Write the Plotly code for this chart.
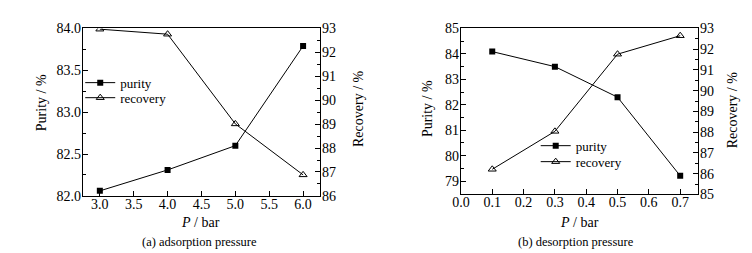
import plotly.graph_objects as go

# Data (a) adsorption pressure
p_ads = [3.0, 4.0, 5.0, 6.0]
purity_ads = [82.06, 82.31, 82.60, 83.79]
recovery_ads = [92.97, 92.76, 89.01, 86.88]

# Data (b) desorption pressure
p_des = [0.1, 0.3, 0.5, 0.7]
purity_des = [84.09, 83.50, 82.30, 79.21]
recovery_des = [86.21, 88.04, 91.76, 92.65]

W, H = 752, 253
FONT = "'Liberation Serif', 'Times New Roman', Times, 'DejaVu Serif', serif"

def px_x(v):
    return v / W

def px_y(v):
    return 1 - v / H

fig = go.Figure()

line = dict(color="black", width=1)
sq = dict(symbol="square", size=6, color="black")
tri = dict(symbol="triangle-up-open", size=7, color="black", line=dict(width=1))
fig.add_trace(go.Scatter(x=p_ads, y=purity_ads, name="purity", mode="lines+markers",
                         line=line, marker=sq, xaxis="x", yaxis="y", legend="legend"))
fig.add_trace(go.Scatter(x=p_ads, y=recovery_ads, name="recovery", mode="lines+markers",
                         line=line, marker=tri, xaxis="x", yaxis="y2", legend="legend2"))
fig.add_trace(go.Scatter(x=p_des, y=purity_des, name="purity", mode="lines+markers",
                         line=line, marker=sq, xaxis="x2", yaxis="y3", legend="legend3"))
fig.add_trace(go.Scatter(x=p_des, y=recovery_des, name="recovery", mode="lines+markers",
                         line=line, marker=tri, xaxis="x2", yaxis="y4", legend="legend4"))

tickfont = dict(family=FONT, size=14, color="black")
common = dict(showline=True, linecolor="black", linewidth=1.2, ticks="inside", ticklen=5,
              tickcolor="black", tickwidth=1, showgrid=False, zeroline=False, tickfont=tickfont)
xcommon = dict(common, ticklabelstandoff=-5)
ycommon = dict(common, ticklabelstandoff=-2)

dom1x = [px_x(66.7), px_x(306.7)]
dom1y = [px_y(192.3), px_y(14.3)]
dom2x = [px_x(449.3), px_x(689.3)]
dom2y = [px_y(190.7), px_y(14.3)]

def leg(x, y):
    return dict(x=px_x(x), y=px_y(y), xanchor="left", yanchor="top", bgcolor="rgba(0,0,0,0)",
                font=dict(family=FONT, size=13, color="black"), itemwidth=30)

fig.update_layout(
    width=W, height=H,
    margin=dict(l=0, r=0, t=0, b=0),
    paper_bgcolor="white", plot_bgcolor="white",
    font=dict(family=FONT, color="black"),
    xaxis=dict(domain=dom1x, anchor="y", range=[2.75, 6.25], tickvals=[3.0, 3.5, 4.0, 4.5, 5.0, 5.5, 6.0],
               ticktext=["3.0", "3.5", "4.0", "4.5", "5.0", "5.5", "6.0"], mirror=True, **xcommon),
    yaxis=dict(domain=dom1y, anchor="x", range=[82.0, 84.0], dtick=0.5, tickformat=".1f",
               minor=dict(ticks="inside", ticklen=3, dtick=0.25, tickcolor="black"), **ycommon),
    yaxis2=dict(overlaying="y", anchor="x", side="right", range=[86, 93], dtick=1,
                minor=dict(ticks="inside", ticklen=3, dtick=0.5, tickcolor="black"), **ycommon),
    xaxis2=dict(domain=dom2x, anchor="y3", range=[0, 0.757], dtick=0.1, tickformat=".1f", mirror=True, **xcommon),
    yaxis3=dict(domain=dom2y, anchor="x2", range=[78.48, 85], tickvals=[79, 80, 81, 82, 83, 84, 85],
                minor=dict(ticks="inside", ticklen=3, dtick=0.5, tickcolor="black"), **ycommon),
    yaxis4=dict(overlaying="y3", anchor="x2", side="right", range=[85, 93], dtick=1,
                minor=dict(ticks="inside", ticklen=3, dtick=0.5, tickcolor="black"), **ycommon),
    legend=leg(64, 56),
    legend2=leg(64, 72),
    legend3=leg(525, 123),
    legend4=leg(525, 140),
    showlegend=True,
)

def ann(text, x, y, size=14, angle=0):
    fig.add_annotation(text=text, x=px_x(x), y=px_y(y), xref="paper", yref="paper",
                       showarrow=False, textangle=angle, xanchor="center", yanchor="middle",
                       font=dict(family=FONT, size=size, color="black"))

ann("Purity / %", 25, 93, angle=-90)
ann("Recovery / %", 345, 99, angle=-90)
ann("Purity / %", 415, 100, angle=-90)
ann("Recovery / %", 724, 101, angle=-90)
ann("<i>P</i> / bar", 186, 221)
ann("<i>P</i> / bar", 569, 221)
ann("(a) adsorption pressure", 185, 241.5, size=12.5)
ann("(b) desorption pressure", 566, 241.5, size=12.5)

fig.write_html("out.html")
